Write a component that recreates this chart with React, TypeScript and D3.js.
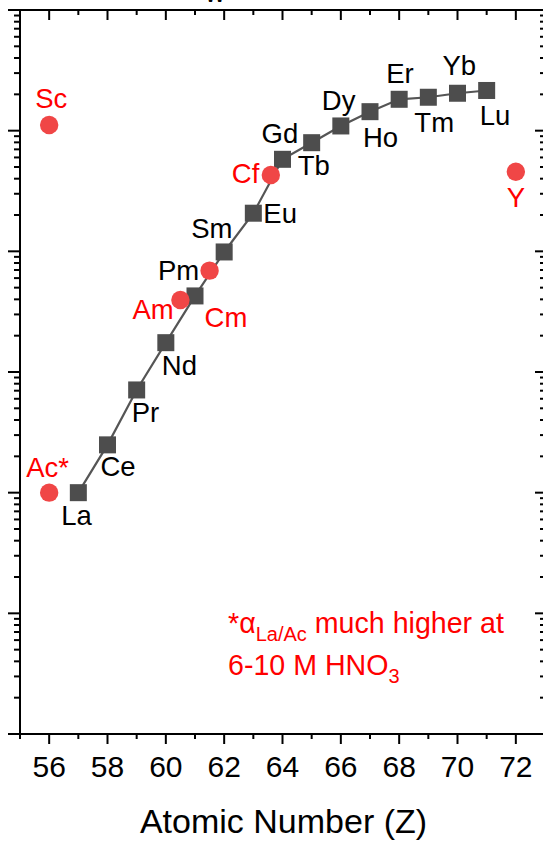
import React from "react";
import * as d3 from "d3";

// ---- data ----
const lnElements = ["La", "Ce", "Pr", "Nd", "Pm", "Sm", "Eu", "Gd", "Tb", "Dy", "Ho", "Er", "Tm", "Yb", "Lu"];
const lnZ = [57, 58, 59, 60, 61, 62, 63, 64, 65, 66, 67, 68, 69, 70, 71];
const lnValues = [1.0, 2.49, 7.1, 17.5, 42.7, 98.8, 207, 579, 795, 1094, 1437, 1820, 1892, 2042, 2153];

const otherElements = ["Sc", "Ac*", "Am", "Cm", "Cf", "Y"];
const otherZ = [56, 56, 60.5, 61.5, 63.6, 72];
const otherValues = [1115, 1.0, 39.5, 69.2, 429, 457];

const xTickValues = [56, 58, 60, 62, 64, 66, 68, 70, 72];
const xTitle = "Atomic Number (Z)";

// ---- layout ----
const W = 543;
const H = 841;
const left = 20;
const right = 545;
const top = 10;
const bottom = 734;

const labelOffsets: Record<string, [number, number]> = {
  La: [-17, 32], Ce: [-7, 31], Pr: [-5, 32], Nd: [-4, 32], Pm: [-37, -16],
  Sm: [-33, -14], Eu: [10, 10], Gd: [-21, -16], Tb: [-14, 32], Dy: [-19, -16],
  Ho: [-7, 35], Er: [-13, -16], Tm: [-14, 35], Yb: [-15, -18], Lu: [-7, 35],
  Sc: [-14, -17], "Ac*": [-23, -16], Am: [-48, 19], Cm: [-5, 56], Cf: [-39, 8], Y: [-9, 35],
};

const FONT = "'Liberation Sans', Arial, sans-serif";

export default function App() {
  const x = d3.scaleLinear().domain([55, 73]).range([left, right]);
  const y = d3.scaleLog().domain([1e-2, 1e4]).range([bottom, top]);

  const xTicksAll = d3.range(55, 74, 1);
  const yMajor = [1e-2, 1e-1, 1, 10, 100, 1000, 1e4];
  const yMinor: number[] = [];
  for (let e = -2; e < 4; e++) {
    for (let m = 2; m <= 9; m++) yMinor.push(m * Math.pow(10, e));
  }

  const lnPts = lnZ.map((z, i) => [x(z), y(lnValues[i])] as [number, number]);
  const line = d3.line()(lnPts) || "";
  const sq = 17;

  return (
    <svg width={W} height={H} style={{ position: "absolute", left: 0, top: 0, background: "#fff" }} fontFamily={FONT}>
      {/* cut-off text at top (as in the reference) */}
      <text x={215} y={2} fontSize={28} textAnchor="middle" fill="#000">w</text>

      {/* axes lines */}
      <g stroke="#000" strokeWidth={2} fill="none">
        <line x1={left} y1={top} x2={left} y2={bottom} />
        <line x1={left} y1={bottom} x2={W + 5} y2={bottom} />
        <line x1={left} y1={top} x2={W + 5} y2={top} />
        <line x1={right} y1={top} x2={right} y2={bottom} />
      </g>

      {/* x ticks bottom (outward) and top (inward); y ticks left (outward) right (inward) */}
      <g stroke="#000" strokeWidth={2}>
        {xTicksAll.map((t) => {
          const major = t % 2 === 0;
          const len = major ? 10 : 5;
          return (
            <g key={"xt" + t}>
              <line x1={x(t)} x2={x(t)} y1={bottom} y2={bottom + len} />
              <line x1={x(t)} x2={x(t)} y1={top} y2={top + len} />
            </g>
          );
        })}
        {yMajor.map((v) => (
          <g key={"ym" + v}>
            <line x1={left - 12} x2={left} y1={y(v)} y2={y(v)} />
            <line x1={right - 10} x2={right} y1={y(v)} y2={y(v)} />
          </g>
        ))}
        {yMinor.map((v) => (
          <g key={"yn" + v}>
            <line x1={left - 6} x2={left} y1={y(v)} y2={y(v)} />
            <line x1={right - 5} x2={right} y1={y(v)} y2={y(v)} />
          </g>
        ))}
      </g>

      {/* x tick labels */}
      {xTickValues.map((t) => (
        <text key={"xl" + t} x={x(t)} y={777} fontSize={30} textAnchor="middle" fill="#000">
          {t}
        </text>
      ))}
      <text x={283.5} y={833} fontSize={34} textAnchor="middle" fill="#000">
        {xTitle}
      </text>

      {/* series line */}
      <path d={line} fill="none" stroke="#555" strokeWidth={2.2} />
      {lnPts.map(([px, py], i) => (
        <rect key={"sq" + i} x={px - sq / 2} y={py - sq / 2} width={sq} height={sq} fill="#4d4d4d" />
      ))}
      {otherZ.map((z, i) => (
        <circle key={"c" + i} cx={x(z)} cy={y(otherValues[i])} r={9.2} fill="#f04646" />
      ))}

      {/* labels */}
      {lnElements.map((el, i) => {
        const [dx, dy] = labelOffsets[el];
        return (
          <text key={"ll" + el} x={lnPts[i][0] + dx} y={lnPts[i][1] + dy} fontSize={27.5} fill="#000">
            {el}
          </text>
        );
      })}
      {otherElements.map((el, i) => {
        const [dx, dy] = labelOffsets[el];
        return (
          <text key={"ol" + el} x={x(otherZ[i]) + dx} y={y(otherValues[i]) + dy} fontSize={27.5} fill="#ff0000">
            {el}
          </text>
        );
      })}

      {/* note */}
      <text x={228} y={633} fontSize={28.6} fill="#ff0000">
        <tspan>*α</tspan>
        <tspan fontSize={20} dy={8}>La/Ac</tspan>
        <tspan dy={-8}> much higher at</tspan>
      </text>
      <text x={228} y={675} fontSize={28.6} fill="#ff0000">
        <tspan>6-10 M HNO</tspan>
        <tspan fontSize={20} dy={8}>3</tspan>
      </text>
    </svg>
  );
}
